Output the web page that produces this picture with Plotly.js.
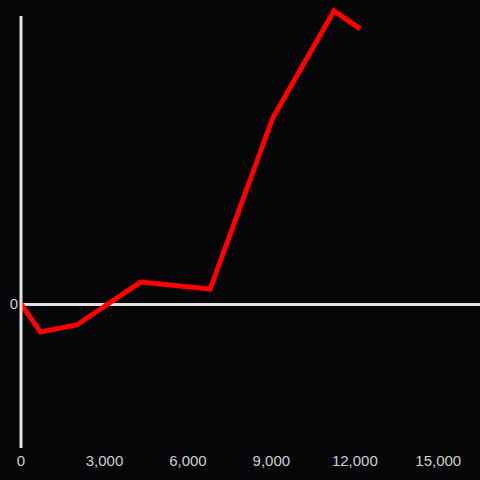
<!DOCTYPE html>
<html>
<head>
<meta charset="utf-8">
<script src="https://cdn.plot.ly/plotly-3.0.1.min.js"></script>
<style>html,body{margin:0;padding:0;background:#050407;}#chart{width:480px;height:480px;}</style>
</head>
<body>
<div id="chart"></div>
<script>
const xValues = [0, 700, 2000, 4300, 6800, 9050, 11250, 12200];
const yValues = [0, -9.3, -7, 7.3, 5, 62, 97.7, 91.7];
const xTickVals = [0, 3000, 6000, 9000, 12000, 15000];
const xTickText = ['0', '3,000', '6,000', '9,000', '12,000', '15,000'];
const yTickVals = [0];
const yTickText = ['0'];

const bg = '#050407';
const axisCol = '#e0e0e0';
const tickCol = '#d0d0d0';
const fontFam = 'Liberation Sans, Arial, sans-serif';

Plotly.newPlot('chart', [{
  x: xValues, y: yValues, type: 'scatter', mode: 'lines',
  line: {color: '#ff0000', width: 5},
  hoverinfo: 'skip'
}], {
  width: 480, height: 480,
  margin: {l: 21, r: 0, t: 0, b: 32, pad: 0},
  paper_bgcolor: bg, plot_bgcolor: bg,
  showlegend: false,
  font: {family: fontFam, size: 15, color: tickCol},
  xaxis: {
    range: [0, 16500], showgrid: false, zeroline: false, showline: false,
    tickvals: xTickVals, ticktext: xTickText, ticks: '', ticklabelstandoff: 2,
    tickfont: {family: fontFam, size: 15, color: tickCol}
  },
  yaxis: {
    range: [-48, 101.33], showgrid: false, zeroline: true,
    zerolinecolor: axisCol, zerolinewidth: 3, showline: false,
    tickvals: yTickVals, ticktext: yTickText, ticks: '', ticklabelstandoff: 2,
    tickfont: {family: fontFam, size: 15, color: tickCol}
  },
  shapes: [{
    type: 'line', xref: 'paper', yref: 'paper', x0: 0, x1: 0, y0: 0, y1: (448 - 16) / 448,
    line: {color: axisCol, width: 3}, layer: 'above'
  }]
}, {staticPlot: true, displayModeBar: false});
</script>
</body>
</html>
